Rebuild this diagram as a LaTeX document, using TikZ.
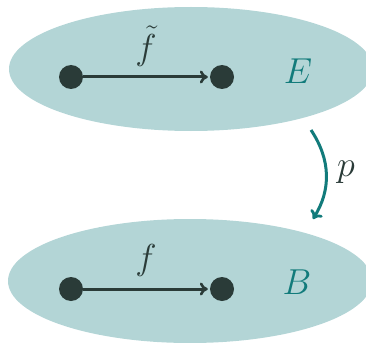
\documentclass[tikz,border=0pt]{standalone}
\usetikzlibrary{shapes.geometric,arrows.meta}
\definecolor{blobfill}{HTML}{B3D5D6}
\definecolor{dotcol}{HTML}{2A3B38}
\definecolor{tealc}{HTML}{127B7B}
\tikzset{
  blob/.style={ellipse, fill=blobfill, draw=none, minimum width=364pt, minimum height=124pt, inner sep=0pt},
  pt/.style={circle, fill=dotcol, minimum size=24pt, inner sep=0pt},
  maparrow/.style={draw=dotcol, line width=3pt, shorten >=2pt, -{To[length=8pt,width=13pt,line width=2.6pt]}},
  lbl/.style={font=\Huge, text=dotcol, inner sep=0pt, scale=1.45, transform shape},
  spacelbl/.style={font=\Huge, text=tealc, inner sep=0pt, scale=1.45, transform shape},
}
\begin{document}
\begin{tikzpicture}[x=1pt,y=-1pt]
\useasboundingbox (0,0) rectangle (366,342);
\clip (0,0) rectangle (366,342);
\node[blob] (Eblob) at (191,69) {};
\node[blob] (Bblob) at (190,281) {};
\node[pt] (e1) at (71,77) {};
\node[pt] (e2) at (222,77) {};
\node[pt] (b1) at (71,289) {};
\node[pt] (b2) at (222,289) {};
\draw[maparrow] (e1) -- (e2);
\draw[maparrow] (b1) -- (b2);
\node[lbl] (ft) at (146,46) {$\tilde{f}$};
\node[lbl] (f) at (146,260) {$f$};
\node[spacelbl] (E) at (298,71) {$E$};
\node[spacelbl] (B) at (297,282) {$B$};
\coordinate (ps) at (311,130);
\coordinate (pe) at (313,219);
\draw[draw=tealc, line width=3pt, -{To[length=8pt,width=14pt,line width=2.8pt]}] (ps) .. controls (331,160) and (331,190) .. (pe);
\node[lbl] (p) at (346,172) {$p$};
\end{tikzpicture}
\end{document}
